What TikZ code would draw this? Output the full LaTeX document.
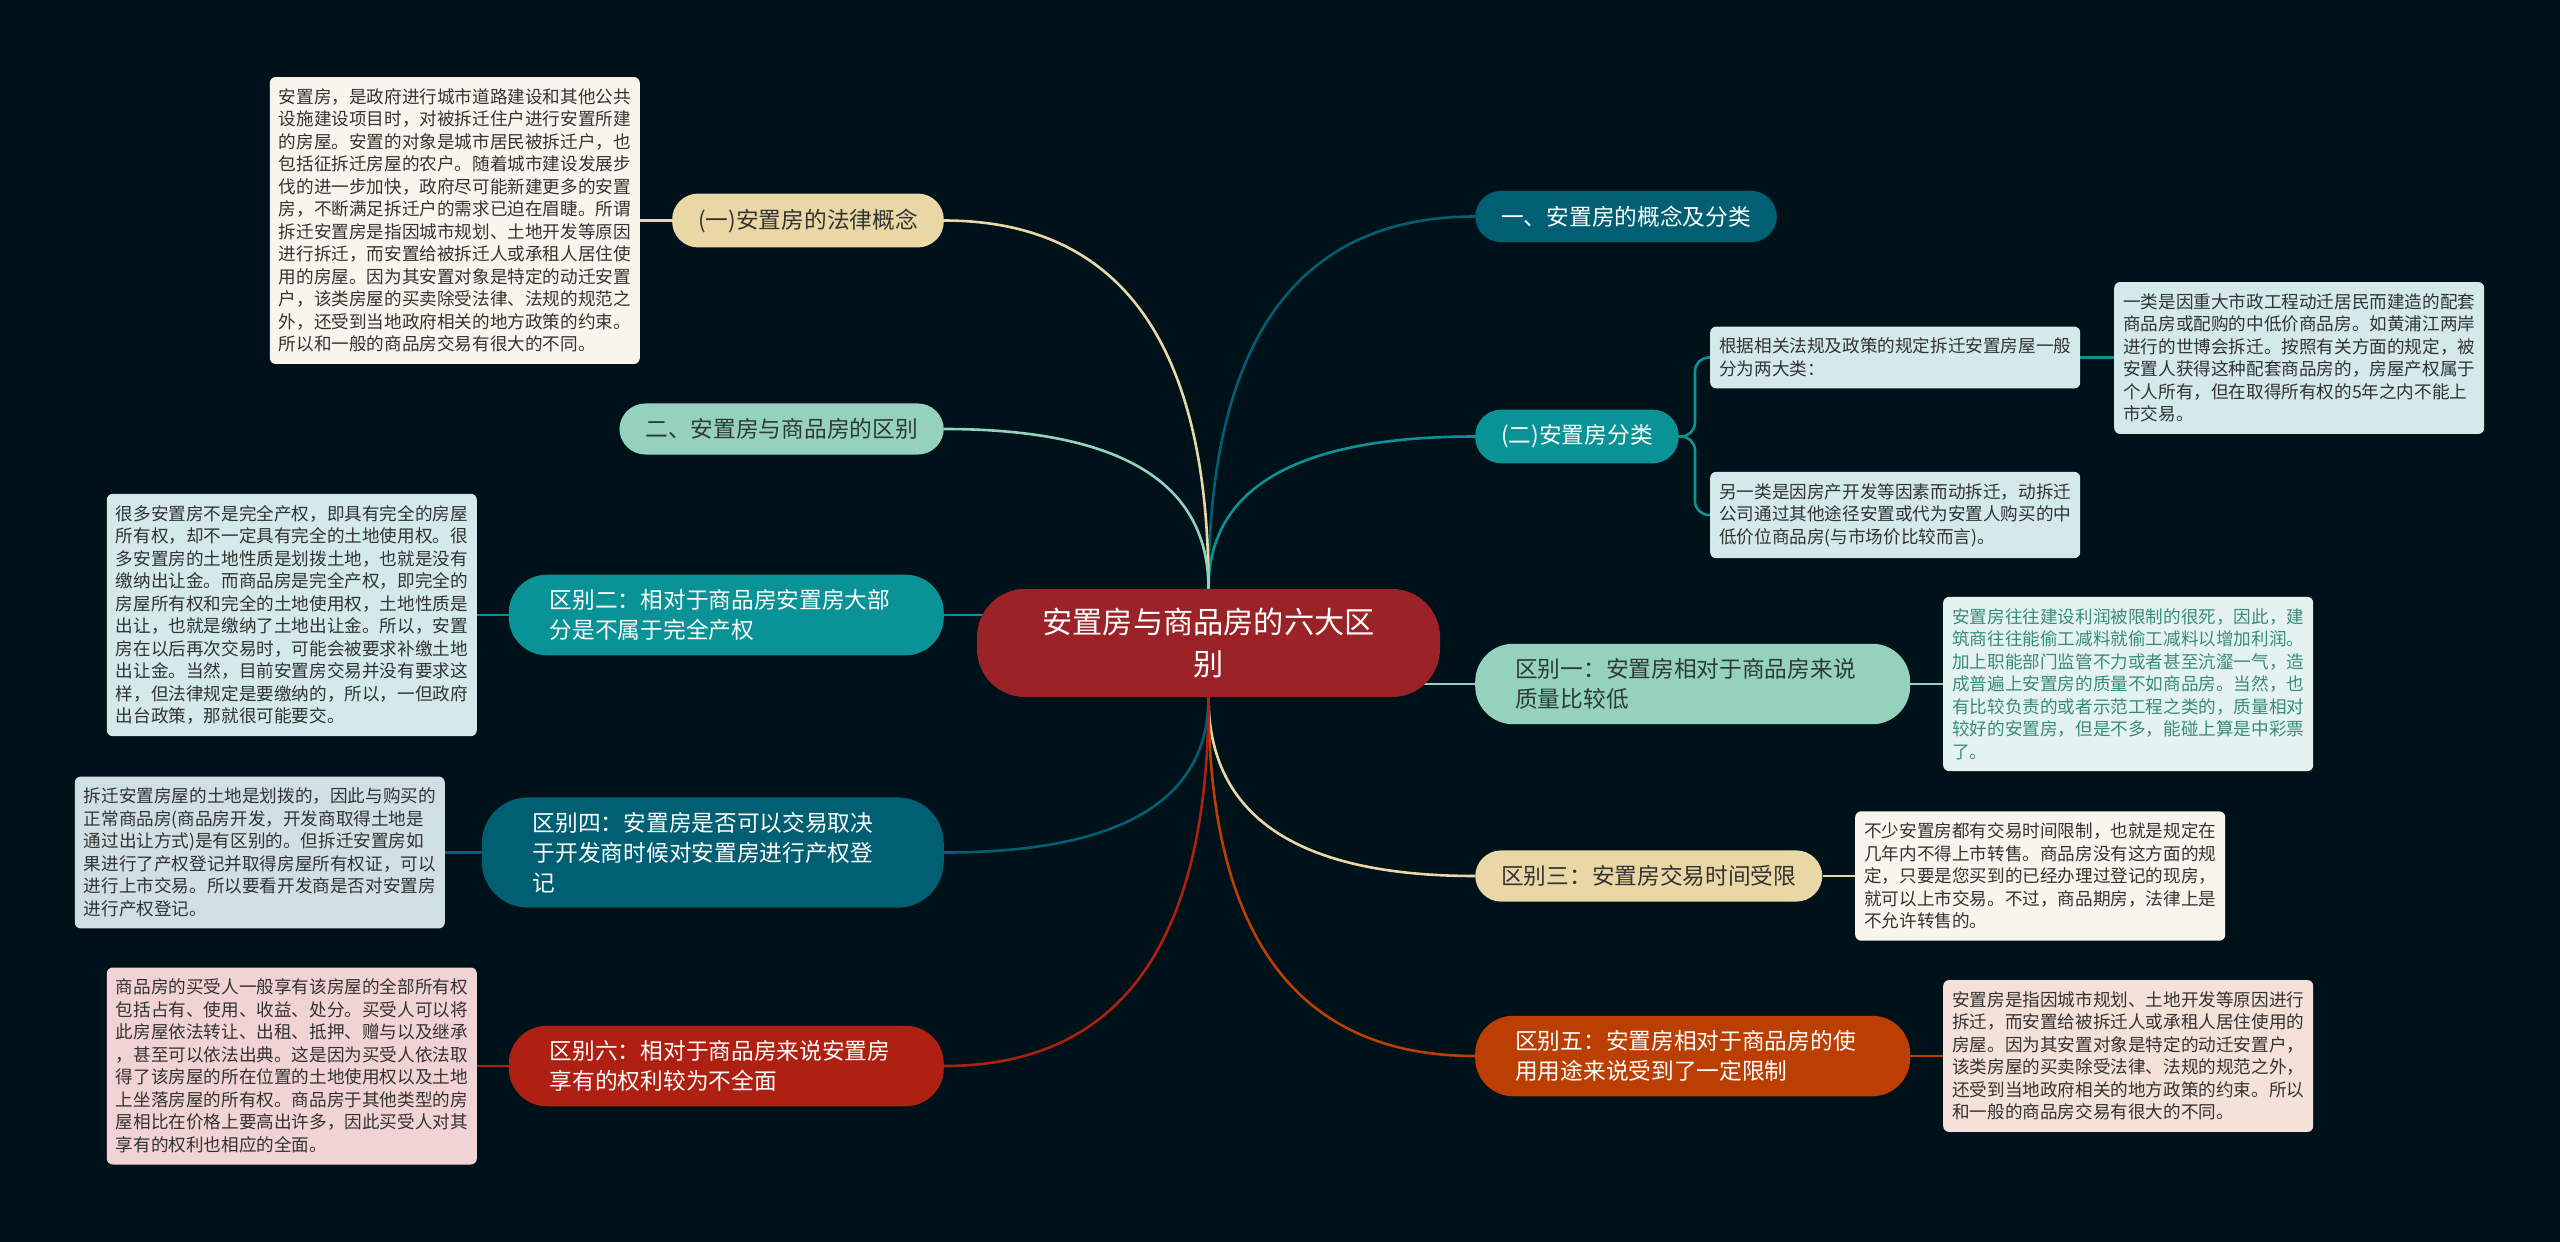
\documentclass[tikz,border=0pt]{standalone}
\usepackage{fontspec}
\setmainfont{Noto Sans CJK SC}
\usetikzlibrary{calc}
\definecolor{bgc}{HTML}{001219}
\definecolor{cred}{HTML}{9B2226}
\definecolor{dteal}{HTML}{005F73}
\definecolor{teal}{HTML}{0A9396}
\definecolor{mint}{HTML}{94D2BD}
\definecolor{beige}{HTML}{E9D8A6}
\definecolor{orng}{HTML}{BB3E03}
\definecolor{rred}{HTML}{AE2012}
\definecolor{darktxt}{HTML}{333333}
\definecolor{minttxt}{HTML}{2D3B38}
\definecolor{cream}{HTML}{F8F5EC}
\definecolor{lcyan}{HTML}{D3E9EA}
\definecolor{lsteel}{HTML}{CFDFE3}
\definecolor{lmint}{HTML}{E4F3EF}
\definecolor{lorng}{HTML}{F4E1D8}
\definecolor{lpink}{HTML}{F2D3D3}
\definecolor{greentxt}{HTML}{3A8C76}
\pgfdeclarelayer{bgl}
\pgfdeclarelayer{back}
\pgfsetlayers{bgl,back,main}
\newcommand{\mcurve}[3]{%
  \coordinate (mk) at (#1 |- #2);
  \draw[conn,#3] (#1) .. controls ($(#1)!0.667!(mk)$) and ($(#2)!0.667!(mk)$) .. (#2);}
\tikzset{
  conn/.style={line width=2.6pt},
  box/.style={rounded corners=6pt, inner xsep=9pt, inner ysep=11.5pt, align=left,
    font=\fontsize{17.6}{22.5}\selectfont, text=darktxt},
  pill/.style={rounded corners=26pt, inner xsep=26pt, inner ysep=15pt,
    font=\fontsize{22.7}{30}\selectfont},
  pillm/.style={rounded corners=38pt, inner ysep=14.7pt, align=left,
    font=\fontsize{22.7}{30}\selectfont},
}
\begin{document}
\begin{tikzpicture}[x=1pt,y=-1pt]
\begin{pgfonlayer}{bgl}
\fill[bgc] (0,0) rectangle (2560,1242);
\end{pgfonlayer}
\useasboundingbox (0,0) rectangle (2560,1242);

% center
\node[fill=cred, text=white, rounded corners=48pt, inner xsep=61.5pt, inner ysep=19pt,
  text width=340pt, align=center, font=\fontsize{30.2}{42}\selectfont] (c) at (1208.5,643)
  {安置房与商品房的六大区\\别};

% right side
\node[pill, fill=dteal, text=white, anchor=west] (a1) at (1475,216.5) {一、安置房的概念及分类};
\node[pill, fill=teal, text=white, anchor=west] (a2) at (1475,436.5) {(二)安置房分类};
\node[box, fill=lcyan, anchor=west] (a2b1) at (1710,357.5) {根据相关法规及政策的规定拆迁安置房屋一般\\分为两大类：};
\node[box, fill=lcyan, anchor=west] (a2b1c) at (2114,358) {一类是因重大市政工程动迁居民而建造的配套\\商品房或配购的中低价商品房。如黄浦江两岸\\进行的世博会拆迁。按照有关方面的规定，被\\安置人获得这种配套商品房的，房屋产权属于\\个人所有，但在取得所有权的5年之内不能上\\市交易。};
\node[box, fill=lcyan, anchor=west] (a2b2) at (1710,515) {另一类是因房产开发等因素而动拆迁，动拆迁\\公司通过其他途径安置或代为安置人购买的中\\低价位商品房(与市场价比较而言)。};

\node[pillm, fill=mint, text=minttxt, anchor=west, inner xsep=40pt, text width=355pt] (r1) at (1475,684) {区别一：安置房相对于商品房来说\\质量比较低};
\node[box, fill=lmint, text=greentxt, anchor=west] (r1c) at (1943,684) {安置房往往建设利润被限制的很死，因此，建\\筑商往往能偷工减料就偷工减料以增加利润。\\加上职能部门监管不力或者甚至沆瀣一气，造\\成普遍上安置房的质量不如商品房。当然，也\\有比较负责的或者示范工程之类的，质量相对\\较好的安置房，但是不多，能碰上算是中彩票\\了。};

\node[pill, fill=beige, text=darktxt, anchor=west] (r3) at (1475,876) {区别三：安置房交易时间受限};
\node[box, fill=cream, anchor=west] (r3c) at (1855,876) {不少安置房都有交易时间限制，也就是规定在\\几年内不得上市转售。商品房没有这方面的规\\定，只要是您买到的已经办理过登记的现房，\\就可以上市交易。不过，商品期房，法律上是\\不允许转售的。};

\node[pillm, fill=orng, text=white, anchor=west, inner xsep=40pt, text width=355pt] (r5) at (1475,1056) {区别五：安置房相对于商品房的使\\用用途来说受到了一定限制};
\node[box, fill=lorng, anchor=west] (r5c) at (1943,1056) {安置房是指因城市规划、土地开发等原因进行\\拆迁，而安置给被拆迁人或承租人居住使用的\\房屋。因为其安置对象是特定的动迁安置户，\\该类房屋的买卖除受法律、法规的规范之外，\\还受到当地政府相关的地方政策的约束。所以\\和一般的商品房交易有很大的不同。};

% left side
\node[pill, fill=beige, text=darktxt, anchor=east] (l1) at (944,220.5) {(一)安置房的法律概念};
\node[box, fill=cream, anchor=east] (l1c) at (640,220.5) {安置房，是政府进行城市道路建设和其他公共\\设施建设项目时，对被拆迁住户进行安置所建\\的房屋。安置的对象是城市居民被拆迁户，也\\包括征拆迁房屋的农户。随着城市建设发展步\\伐的进一步加快，政府尽可能新建更多的安置\\房，不断满足拆迁户的需求已迫在眉睫。所谓\\拆迁安置房是指因城市规划、土地开发等原因\\进行拆迁，而安置给被拆迁人或承租人居住使\\用的房屋。因为其安置对象是特定的动迁安置\\户，该类房屋的买卖除受法律、法规的规范之\\外，还受到当地政府相关的地方政策的约束。\\所以和一般的商品房交易有很大的不同。};

\node[pill, fill=mint, text=minttxt, anchor=east] (l2) at (944,429) {二、安置房与商品房的区别};

\node[pillm, fill=teal, text=white, anchor=east, inner xsep=41pt, text width=353pt] (l3) at (944,615) {区别二：相对于商品房安置房大部\\分是不属于完全产权};
\node[box, fill=lcyan, anchor=east] (l3c) at (477,615) {很多安置房不是完全产权，即具有完全的房屋\\所有权，却不一定具有完全的土地使用权。很\\多安置房的土地性质是划拨土地，也就是没有\\缴纳出让金。而商品房是完全产权，即完全的\\房屋所有权和完全的土地使用权，土地性质是\\出让，也就是缴纳了土地出让金。所以，安置\\房在以后再次交易时，可能会被要求补缴土地\\出让金。当然，目前安置房交易并没有要求这\\样，但法律规定是要缴纳的，所以，一但政府\\出台政策，那就很可能要交。};

\node[pillm, fill=dteal, text=white, anchor=east, rounded corners=46pt, inner xsep=51pt, text width=360pt] (l4) at (944,852.5) {区别四：安置房是否可以交易取决\\于开发商时候对安置房进行产权登\\记};
\node[box, fill=lsteel, anchor=east] (l4c) at (445,852.5) {拆迁安置房屋的土地是划拨的，因此与购买的\\正常商品房(商品房开发，开发商取得土地是\\通过出让方式)是有区别的。但拆迁安置房如\\果进行了产权登记并取得房屋所有权证，可以\\进行上市交易。所以要看开发商是否对安置房\\进行产权登记。};

\node[pillm, fill=rred, text=white, anchor=east, inner xsep=41pt, text width=353pt] (l6) at (944,1066) {区别六：相对于商品房来说安置房\\享有的权利较为不全面};
\node[box, fill=lpink, anchor=east] (l6c) at (477,1066) {商品房的买受人一般享有该房屋的全部所有权\\包括占有、使用、收益、处分。买受人可以将\\此房屋依法转让、出租、抵押、赠与以及继承\\，甚至可以依法出典。这是因为买受人依法取\\得了该房屋的所在位置的土地使用权以及土地\\上坐落房屋的所有权。商品房于其他类型的房\\屋相比在价格上要高出许多，因此买受人对其\\享有的权利也相应的全面。};

\begin{pgfonlayer}{back}
  \mcurve{c.north}{a1.west}{dteal}
  \mcurve{c.north}{a2.west}{teal}
  \mcurve{c.north}{l1.east}{beige}
  \mcurve{c.north}{l2.east}{mint}
  \mcurve{c.south}{r3.west}{beige}
  \mcurve{c.south}{r5.west}{orng}
  \mcurve{c.south}{l4.east}{dteal}
  \mcurve{c.south}{l6.east}{rred}
  \draw[conn,mint] (c.center |- r1.west) -- (r1.west);
  \draw[conn,teal] (c.center |- l3.east) -- (l3.east);
  % children
  \draw[conn,beige] (l1.west) -- (l1.west -| l1c.east);
  \draw[conn,teal] (l3.west) -- (l3.west -| l3c.east);
  \draw[conn,dteal] (l4.west) -- (l4.west -| l4c.east);
  \draw[conn,rred] (l6.west) -- (l6.west -| l6c.east);
  \draw[conn,mint] (r1.east) -- (r1.east -| r1c.west);
  \draw[conn,beige] (r3.east) -- (r3.east -| r3c.west);
  \draw[conn,orng] (r5.east) -- (r5.east -| r5c.west);
  \draw[conn,teal,rounded corners=14pt] (a2.east) -- ++(16,0) |- (a2b1.west);
  \draw[conn,teal,rounded corners=14pt] (a2.east) -- ++(16,0) |- (a2b2.west);
  \draw[conn,teal] (a2b1.east) -- (a2b1.east -| a2b1c.west);
\end{pgfonlayer}
\end{tikzpicture}
\end{document}
